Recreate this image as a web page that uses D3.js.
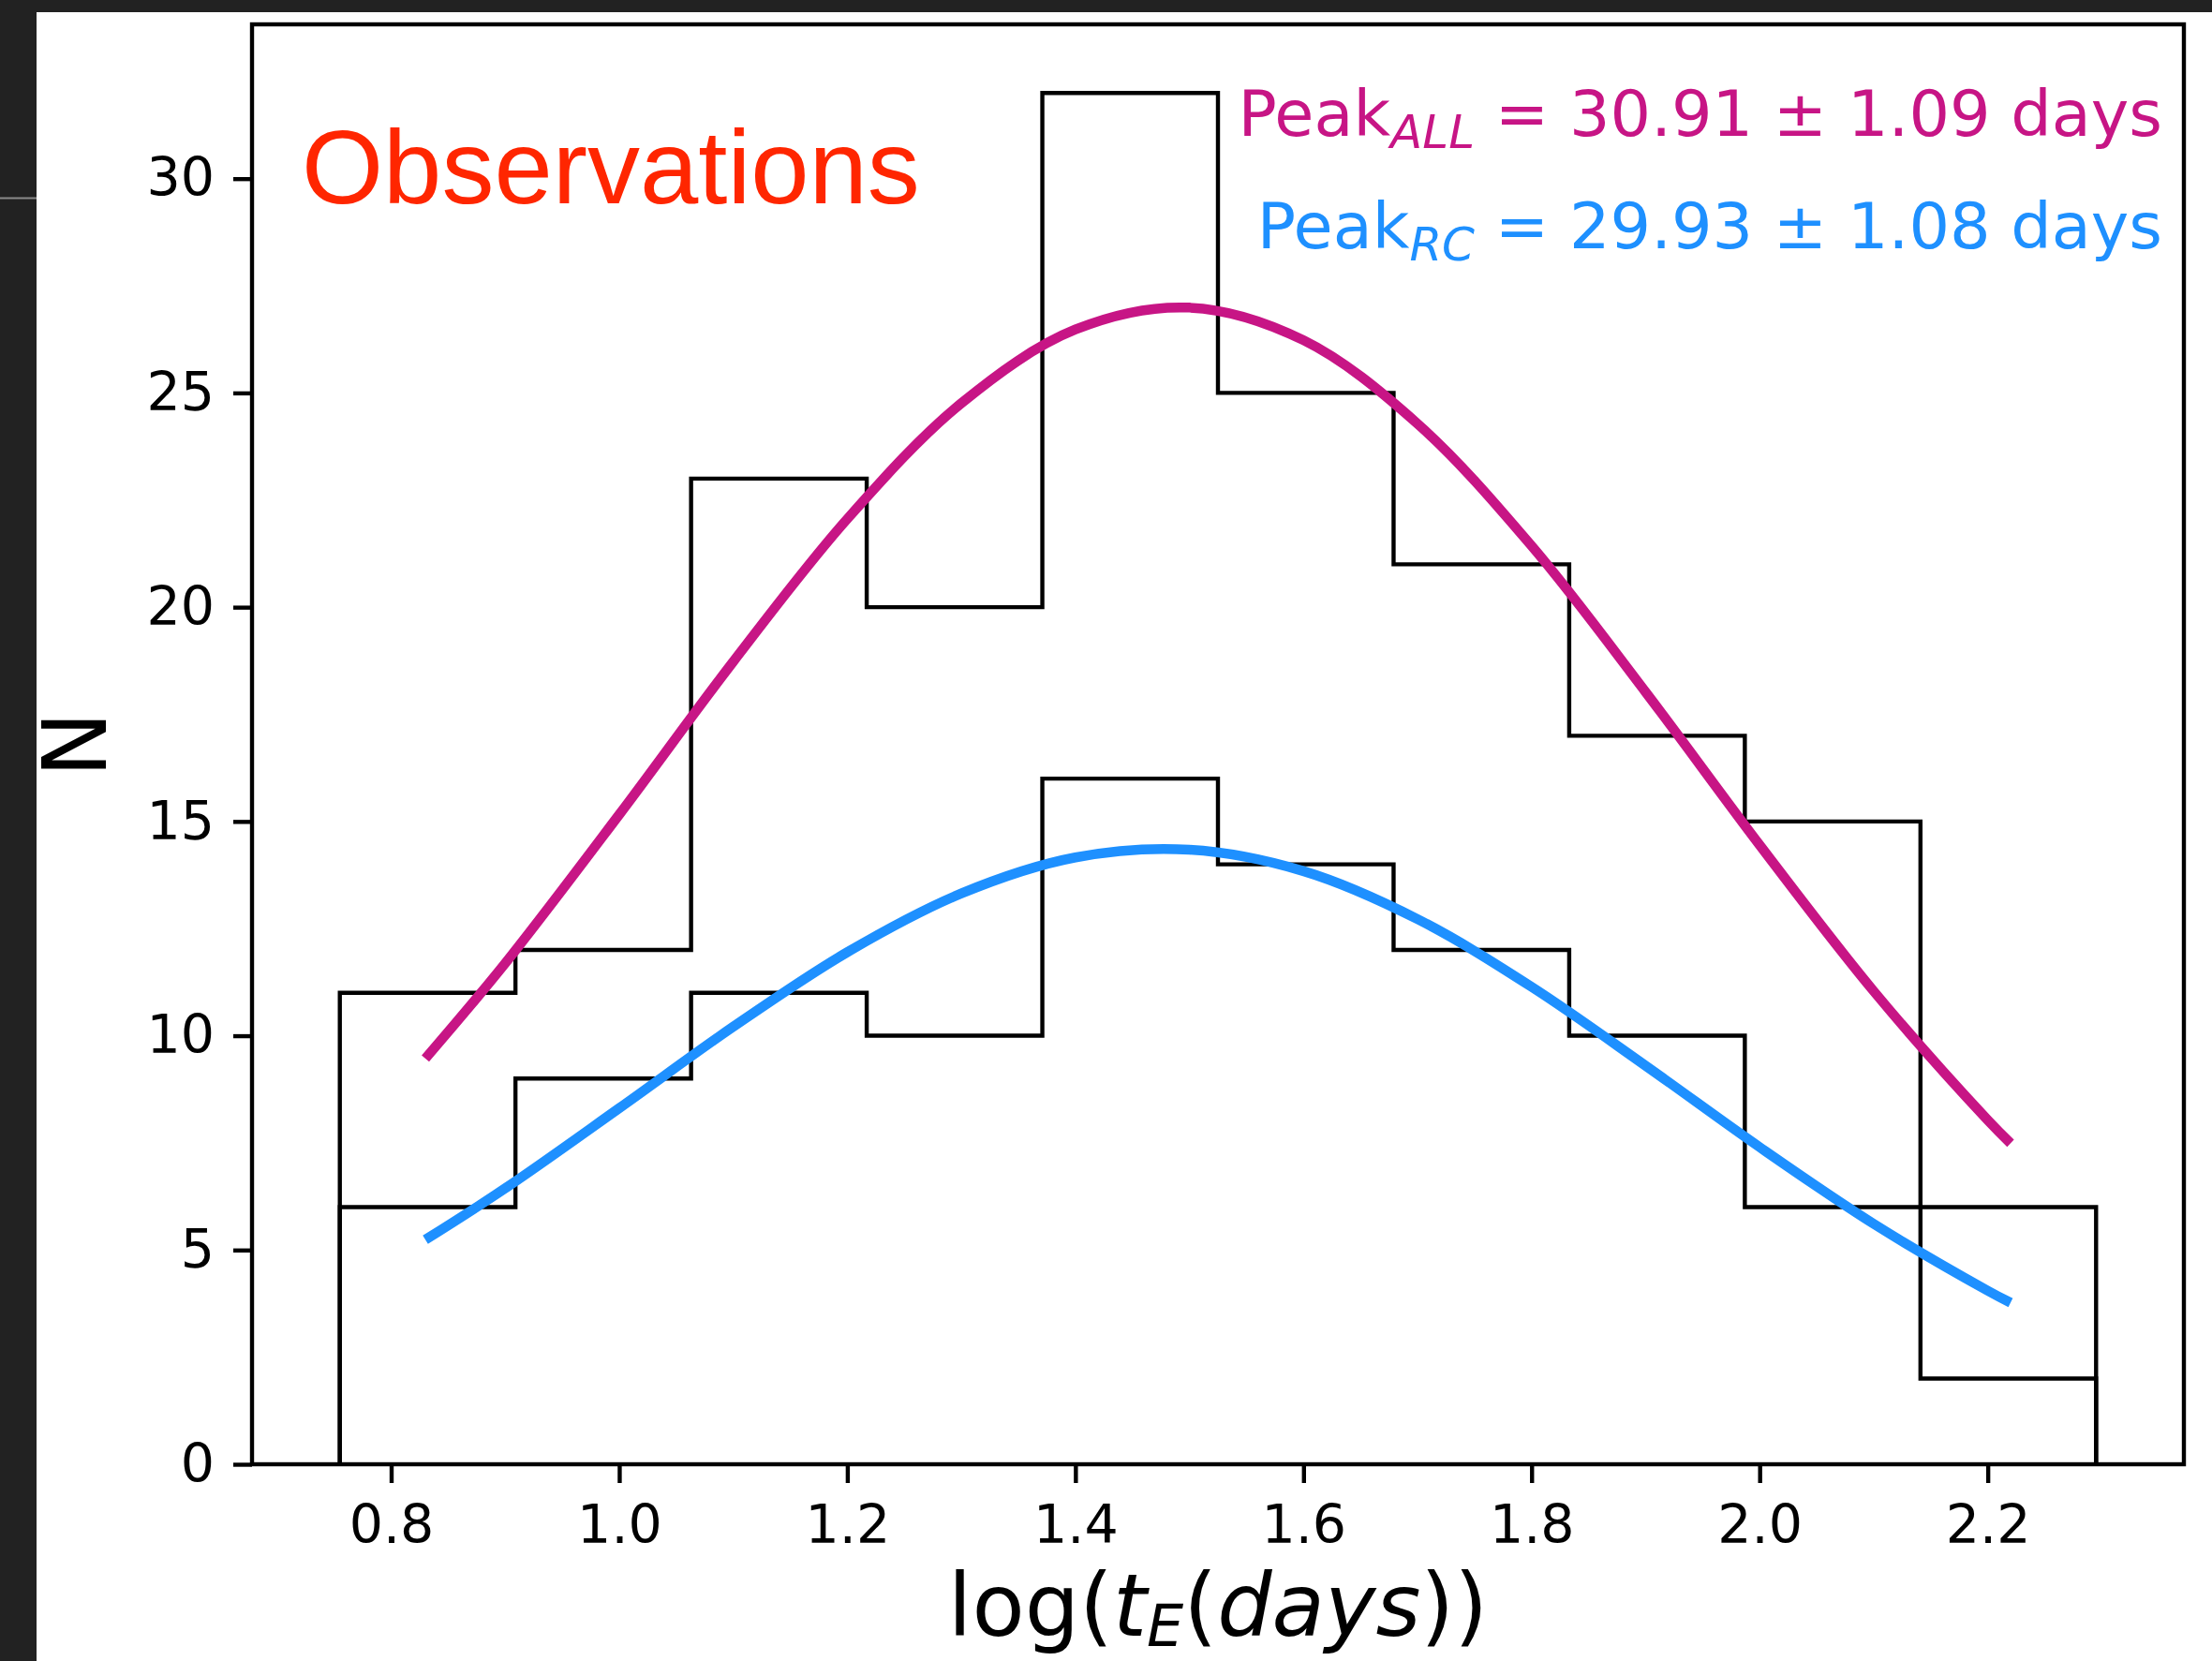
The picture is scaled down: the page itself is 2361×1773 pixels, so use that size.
<!DOCTYPE html>
<html>
<head>
<meta charset="utf-8">
<script src="https://cdn.jsdelivr.net/npm/d3@7"></script>
<style>
  html, body { margin: 0; padding: 0; background: #ffffff; }
  svg { display: block; }
</style>
</head>
<body>
<svg id="chart" width="2361" height="1773"></svg>
<script>
// Bin edges in log10(tE / days)
const binEdges = [0.755, 0.909, 1.063, 1.217, 1.371, 1.525, 1.679, 1.833, 1.987, 2.141, 2.295];
// Event counts per bin: whole sample and red-clump sources
const countsAll = [11, 12, 23, 20, 32, 25, 21, 17, 15, 2];
const countsRC  = [6, 9, 11, 10, 16, 14, 12, 10, 6, 6];

// Gaussian fit curves sampled along log(tE)
const fitX   = [0.83, 0.90, 1.00, 1.10, 1.20, 1.30, 1.40, 1.50, 1.60, 1.70, 1.80, 1.90, 2.00, 2.10, 2.20, 2.22];
const fitAll = [9.47, 11.69, 15.16, 18.73, 22.06, 24.76, 26.48, 26.99, 26.23, 24.28, 21.43, 18.02, 14.45, 11.04, 8.03, 7.49];
const fitRC  = [5.24, 6.44, 8.31, 10.21, 11.95, 13.32, 14.16, 14.34, 13.84, 12.72, 11.14, 9.30, 7.40, 5.61, 4.05, 3.77];

const xTicks = [0.8, 1.0, 1.2, 1.4, 1.6, 1.8, 2.0, 2.2];
const yTicks = [0, 5, 10, 15, 20, 25, 30];

const peakAll = { label: "ALL", value: "30.91", err: "1.09" };
const peakRC  = { label: "RC",  value: "29.93", err: "1.08" };

const svg = d3.select("#chart");
const W = 2361, H = 1773;

// dark window chrome along top and left edges
svg.append("rect").attr("x", 0).attr("y", 0).attr("width", W).attr("height", 13).attr("fill", "#222222");
svg.append("rect").attr("x", 0).attr("y", 0).attr("width", 39).attr("height", H).attr("fill", "#222222");
svg.append("line").attr("x1", 0).attr("x2", 39).attr("y1", 211.5).attr("y2", 211.5)
  .attr("stroke", "#8a8a8a").attr("stroke-width", 2);

const plot = { left: 269, right: 2331, top: 26, bottom: 1563 };

// x domain padded 5% on each side of the histogram range
const span = binEdges[binEdges.length - 1] - binEdges[0];
const x = d3.scaleLinear()
  .domain([binEdges[0] - 0.05 * span, binEdges[binEdges.length - 1] + 0.05 * span])
  .range([plot.left, plot.right]);
const yMax = d3.max(countsAll.concat(countsRC));
const y = d3.scaleLinear().domain([0, yMax * 1.05]).range([plot.bottom, plot.top]);

const FONT = "'DejaVu Sans', sans-serif";
const LW = 4.4;

// step outline of a histogram
function stepPath(counts) {
  const p = d3.path();
  p.moveTo(x(binEdges[0]), y(0));
  counts.forEach((c, i) => {
    p.lineTo(x(binEdges[i]), y(c));
    p.lineTo(x(binEdges[i + 1]), y(c));
  });
  p.lineTo(x(binEdges[binEdges.length - 1]), y(0));
  return p.toString();
}

const g = svg.append("g");

g.append("path").attr("d", stepPath(countsAll))
  .attr("fill", "none").attr("stroke", "#000").attr("stroke-width", LW).attr("stroke-linejoin", "miter");
g.append("path").attr("d", stepPath(countsRC))
  .attr("fill", "none").attr("stroke", "#000").attr("stroke-width", LW).attr("stroke-linejoin", "miter");

const line = d3.line().x(d => x(d[0])).y(d => y(d[1])).curve(d3.curveCatmullRom.alpha(0.5));

g.append("path").attr("d", line(fitX.map((v, i) => [v, fitAll[i]])))
  .attr("fill", "none").attr("stroke", "#C71585").attr("stroke-width", 10.5);
g.append("path").attr("d", line(fitX.map((v, i) => [v, fitRC[i]])))
  .attr("fill", "none").attr("stroke", "#1E90FF").attr("stroke-width", 10.5);

// axes
const xAxis = d3.axisBottom(x).tickValues(xTicks).tickFormat(d3.format(".1f")).tickSize(20).tickPadding(24);
const yAxis = d3.axisLeft(y).tickValues(yTicks).tickFormat(d3.format("d")).tickSize(20).tickPadding(20);

const gx = svg.append("g").attr("transform", `translate(0,${plot.bottom})`).call(xAxis);
const gy = svg.append("g").attr("transform", `translate(${plot.left},0)`).call(yAxis);
[gx, gy].forEach(a => {
  a.select(".domain").remove();
  a.selectAll(".tick line").attr("stroke", "#000").attr("stroke-width", LW);
  a.selectAll(".tick text").attr("fill", "#000").style("font-family", FONT).style("font-size", "57px");
});

// frame
svg.append("rect")
  .attr("x", plot.left).attr("y", plot.top)
  .attr("width", plot.right - plot.left).attr("height", plot.bottom - plot.top)
  .attr("fill", "none").attr("stroke", "#000").attr("stroke-width", LW);

// axis titles
svg.append("text")
  .attr("transform", `translate(80,${(plot.top + plot.bottom) / 2}) rotate(-90)`)
  .attr("text-anchor", "middle").attr("dominant-baseline", "central")
  .style("font-family", FONT).style("font-size", "94px").attr("fill", "#000")
  .text("N");

const xt = svg.append("text")
  .attr("x", (plot.left + plot.right) / 2).attr("y", 1746)
  .attr("text-anchor", "middle")
  .style("font-family", FONT).style("font-size", "92px").attr("fill", "#000");
xt.append("tspan").text("log(");
xt.append("tspan").style("font-style", "italic").text("t");
xt.append("tspan").style("font-style", "italic").style("font-size", "62px").attr("dy", 11).text("E");
xt.append("tspan").attr("dy", -11).text("(");
xt.append("tspan").style("font-style", "italic").text("days");
xt.append("tspan").text("))");

// fitted peak annotations
function peakLabel(info, yBase, color) {
  const t = svg.append("text")
    .attr("x", 2308).attr("y", yBase).attr("text-anchor", "end")
    .style("font-family", FONT).style("font-size", "68.5px").attr("fill", color);
  t.append("tspan").text("Peak");
  t.append("tspan").style("font-style", "italic").style("font-size", "50px").attr("dy", 13).text(info.label);
  t.append("tspan").attr("dy", -13).text(` = ${info.value} \u00B1 ${info.err} days`);
}
peakLabel(peakAll, 145, "#C71585");
peakLabel(peakRC, 265, "#1E90FF");

svg.append("text")
  .attr("x", 322).attr("y", 217)
  .style("font-family", "'Liberation Sans', Arial, sans-serif").style("font-size", "112px")
  .attr("fill", "#FF2600")
  .text("Observations");
</script>
</body>
</html>
